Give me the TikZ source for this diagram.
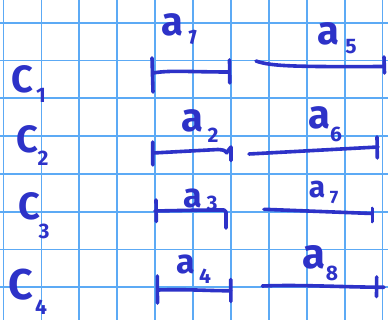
\documentclass[tikz,border=0pt]{standalone}
\usepackage{fontspec}
\setmainfont{Fira Sans}
\definecolor{gridblue}{RGB}{92,170,245}
\definecolor{ink}{RGB}{45,50,200}
\tikzset{
  gridline/.style={draw=gridblue, line width=1.8pt},
  stroke/.style={draw=ink, line width=3.6pt, line cap=round, line join=round},
  letterc/.style={text=ink, inner sep=0pt, font=\fontsize{38}{38}\selectfont\bfseries},
  lettera/.style={text=ink, inner sep=0pt, font=\fontsize{40}{40}\selectfont\bfseries},
  subs/.style={text=ink, inner sep=0pt, font=\fontsize{21}{21}\selectfont\bfseries},
}
\begin{document}
\begin{tikzpicture}[x=1pt, y=-1pt]
\useasboundingbox (0,0) rectangle (388,320);
\fill[white] (0,0) rectangle (388,320);
% grid
\foreach \i in {0,...,10} {
  \draw[gridline] ({3.5+37.9*\i},0) -- ({3.5+37.9*\i},320);
}
\foreach \j in {0,...,7} {
  \draw[gridline] (0,{22.7+37.8*\j}) -- (388,{22.7+37.8*\j});
}
% row labels
\node[letterc] (c1) at (22,79) {C};
\node[subs] (c1s) at (41,95) {1};
\node[letterc] (c2) at (27,139) {C};
\node[subs] (c2s) at (43,158) {2};
\node[letterc] (c3) at (29,206) {C};
\node[subs] (c3s) at (44,231) {3};
\node[letterc, font=\fontsize{43}{43}\selectfont\bfseries] (c4) at (21,285) {C};
\node[subs] (c4s) at (41,307) {4};
% interval labels
\node[lettera] (a1) at (172,25) {a};
\node[subs, rotate=-15] (a1s) at (192,37) {1};
\node[lettera] (a2) at (192,121) {a};
\node[subs] (a2s) at (213,135) {2};
\node[lettera, font=\fontsize{34}{34}\selectfont\bfseries] (a3) at (193,198) {a};
\node[subs] (a3s) at (212,203) {3};
\node[lettera, font=\fontsize{34}{34}\selectfont\bfseries] (a4) at (186,264) {a};
\node[subs] (a4s) at (205,276) {4};
\node[lettera] (a5) at (328,34) {a};
\node[subs] (a5s) at (351,47) {5};
\node[lettera] (a6) at (319,118) {a};
\node[subs] (a6s) at (336,134) {6};
\node[lettera, font=\fontsize{30}{30}\selectfont\bfseries] (a7) at (317,190) {a};
\node[subs, font=\fontsize{18}{18}\selectfont\bfseries] (a7s) at (334,198) {7};
\node[lettera, font=\fontsize{42}{42}\selectfont\bfseries] (a8) at (314,257) {a};
\node[subs] (a8s) at (332,273) {8};
% row 1
\draw[stroke] (152,58) -- (153,92);
\draw[stroke] (153,73) .. controls (170,70) and (190,72) .. (229,72);
\draw[stroke] (229.5,60) -- (229.8,83);
\draw[stroke] (256,61) .. controls (270,66) and (290,67) .. (384,66.5);
\draw[stroke] (384,57) -- (384.5,73);
% row 2
\draw[stroke] (152.7,142) -- (152.8,165);
\draw[stroke] (153,153) -- (218,149.5) .. controls (224,150) .. (227,153);
\draw[stroke] (227,152) -- (231,147) -- (231,160.5);
\draw[stroke] (249,154) -- (378,147);
\draw[stroke] (377,137) -- (377.3,158);
% row 3
\draw[stroke] (156,200) -- (156.3,221.5);
\draw[stroke] (155,211) .. controls (180,210.5) and (200,210) .. (224,210) -- (226,212) -- (226,228);
\draw[stroke] (264,209.3) -- (372,213.5);
\draw[stroke] (372.3,208.5) -- (372.3,221.5);
% row 4
\draw[stroke] (157.3,276) -- (157.5,303);
\draw[stroke] (158.3,290) .. controls (190,289) and (210,291) .. (230.7,290.7);
\draw[stroke] (230.7,279.5) -- (230.9,301.5);
\draw[stroke] (262.3,286) .. controls (300,284.5) and (340,287) .. (384,287.3);
\draw[stroke] (376.7,277) -- (376.5,296.5);
\end{tikzpicture}
\end{document}
